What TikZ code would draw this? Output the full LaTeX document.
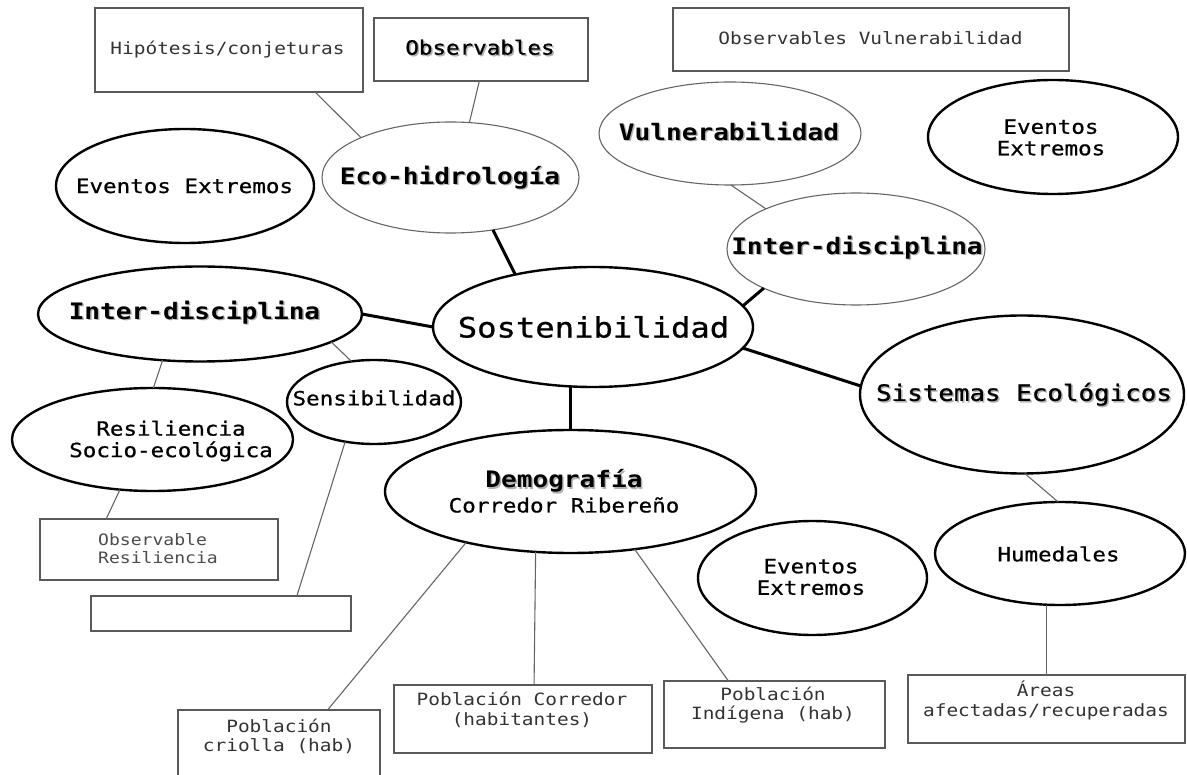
\documentclass[tikz,border=0pt]{standalone}
\usepackage{fontspec}
\usetikzlibrary{shapes.geometric}
\newfontfamily\dm[FakeStretch=1.15]{DejaVu Sans Mono}
\newfontfamily\dmm[FakeStretch=1.15,FakeBold=0.8]{DejaVu Sans Mono}
% text with a soft grey drop shadow
\newcommand\shd[1]{\leavevmode\rlap{\kern1.5pt\raisebox{-1.5pt}{\textcolor{black!30}{#1}}}#1}
\begin{document}
\begin{tikzpicture}[x=1pt,y=-1pt,
  box/.style={draw=black!65,line width=1.4pt,rectangle,inner sep=0pt,outer sep=0pt},
  ellthin/.style={draw=black!60,line width=1.1pt,ellipse,inner sep=0pt,outer sep=0pt},
  ellthick/.style={draw=black,line width=2.4pt,ellipse,inner sep=0pt,outer sep=0pt},
  thin/.style={draw=black!60,line width=1.1pt},
  thick/.style={draw=black,line width=3pt},
  small/.style={font=\dm\fontsize{16.9}{19.5}\selectfont,text=black!80,align=center,inner sep=0pt},
  mid/.style={font=\dmm\fontsize{19.6}{21.5}\selectfont,text=black,align=center,inner sep=0pt},
  big/.style={font=\dm\bfseries\fontsize{22.7}{25}\selectfont,text=black,align=center,inner sep=0pt}
]
\useasboundingbox[fill=white] (0,0) rectangle (1187,775);

% ---- rectangular boxes ----
\node[box,minimum width=268pt,minimum height=84pt] (hip) at (229,50) {};
\node[small] (hipT) at (227.5,50) {Hipótesis/conjeturas};
\node[box,minimum width=214pt,minimum height=63pt] (obs) at (481,49.5) {};
\node[mid] (obsT) at (480,48) {\shd{Observables}};
\node[box,minimum width=396pt,minimum height=63pt] (obsvul) at (871,39.5) {};
\node[small] (obsvulT) at (870.5,38) {Observables Vulnerabilidad};
\node[box,minimum width=238pt,minimum height=61pt] (obsres) at (159,549.5) {};
\node[small,font=\dm\fontsize{15.7}{18}\selectfont,text=black!70,align=left,anchor=west] (obsresT) at (98,549) {Observable\\Resiliencia};
\node[box,minimum width=260pt,minimum height=35pt] (empty) at (221,613.5) {};
\node[box,minimum width=202pt,minimum height=68pt] (criolla) at (279,744) {};
\node[small] (criollaT) at (279,736.5) {Población\\criolla (hab)};
\node[box,minimum width=258pt,minimum height=68pt] (corr) at (523,719) {};
\node[small] (corrT) at (522,710) {Población Corredor\\(habitantes)};
\node[box,minimum width=221pt,minimum height=67pt] (ind) at (774.5,714.5) {};
\node[small] (indT) at (773,705) {Población\\Indígena (hab)};
\node[box,minimum width=277pt,minimum height=68pt] (areas) at (1046.5,709) {};
\node[small] (areasT) at (1046,700.5) {Áreas\\afectadas/recuperadas};

% ---- ellipses ----
\node[ellthin,minimum width=257pt,minimum height=111pt] (eco) at (450.5,177.5) {};
\node[big] (ecoT) at (450,178) {\shd{Eco-hidrología}};
\node[ellthick,minimum width=258pt,minimum height=114pt] (evl) at (185,186) {};
\node[mid] (evlT) at (184.5,186) {Eventos Extremos};
\node[ellthick,minimum width=324pt,minimum height=95pt] (interl) at (200,314) {};
\node[big] (interlT) at (194.5,313) {\shd{Inter-disciplina}};
\node[ellthin,minimum width=262pt,minimum height=103pt] (vul) at (730,133.5) {};
\node[big] (vulT) at (729,132) {\shd{Vulnerabilidad}};
\node[ellthick,minimum width=250pt,minimum height=114pt] (evr) at (1053,137) {};
\node[mid] (evrT) at (1051,137.5) {Eventos\\Extremos};
\node[ellthin,minimum width=258pt,minimum height=112pt] (interr) at (856,249) {};
\node[big] (interrT) at (857,248) {\shd{Inter-disciplina}};
\node[ellthick,minimum width=320pt,minimum height=120pt] (sost) at (593,327) {};
\node[mid,font=\dmm\fontsize{28}{30}\selectfont] (sostT) at (593.5,327) {Sostenibilidad};
\node[ellthick,minimum width=324pt,minimum height=158pt] (sist) at (1022,394.5) {};
\node[mid,font=\dmm\fontsize{22.5}{25}\selectfont] (sistT) at (1024,395) {\shd{Sistemas Ecológicos}};
\node[ellthick,minimum width=174pt,minimum height=84pt] (sens) at (374,402) {};
\node[mid] (sensT) at (374,398) {Sensibilidad};
\node[ellthick,minimum width=281pt,minimum height=103pt] (resil) at (152.5,439.5) {};
\node[mid] (resilT) at (171,441) {Resiliencia\\Socio-ecológica};
\node[ellthick,minimum width=371pt,minimum height=123pt] (demog) at (570.5,491.5) {};
\node[big] (demogA) at (564,482) {\shd{Demografía}};
\node[mid] (demogB) at (564,505) {Corredor Ribereño};
\node[ellthick,minimum width=229pt,minimum height=114pt] (evm) at (812.5,578) {};
\node[mid] (evmT) at (811,577) {Eventos\\Extremos};
\node[ellthick,minimum width=250pt,minimum height=103pt] (hum) at (1060,553.5) {};
\node[mid] (humT) at (1058.5,554) {Humedales};

% ---- connectors to the centre ----
\draw[thick] (eco.-51.4) -- (sost.146.8);
\draw[thick] (interl.east) -- (sost.west);
\draw[thick] (interr.203.3) -- (sost.8.9);
\draw[thick] (sost.-8.2) -- (sist.177.7);
\draw[thick] (sost.south -| demog.north) -- (demog.north);

% ---- secondary connectors ----
\draw[thin] (hip.-26.8) -- (eco.156.6);
\draw[thin] (obs.-93.6) -- (eco.71.6);
\draw[thin] (vul.-89) -- (interr.156.7);
\draw[thin] (interl.-12) -- (sens.119.7);
\draw[thin] (interl.-129.8) -- (resil.89.4);
\draw[thin] (resil.-123) -- (obsres.150.5);
\draw[thin] (sens.-126.4) -- (empty.13.1);
\draw[thin] (sist.-88.5) -- (hum.92);
\draw[thin] (areas.north |- hum.south) -- (areas.north);
\draw[thin] (demog.-154.8) -- (criolla.35.9);
\draw[thin] (demog.-120.7) -- (corr.72);
\draw[thin] (demog.-42.7) -- (ind.144.2);
\end{tikzpicture}
\end{document}
